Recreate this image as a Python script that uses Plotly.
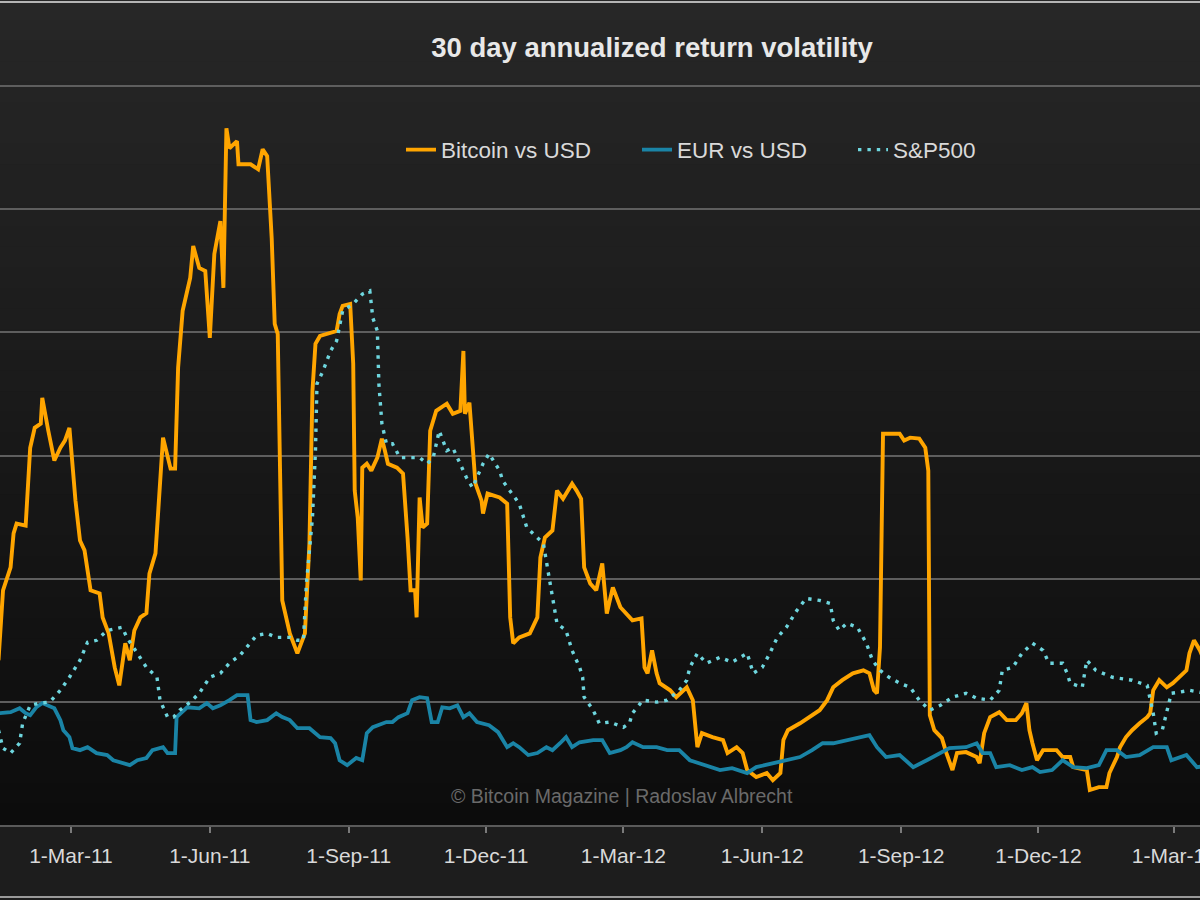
import plotly.graph_objects as go

# ---------------- data ----------------
btc_dates = [
    "2011-01-12", "2011-01-15", "2011-01-20", "2011-01-22", "2011-01-24", "2011-01-30", "2011-02-02", "2011-02-05",
    "2011-02-09", "2011-02-10", "2011-02-14", "2011-02-18", "2011-02-22", "2011-02-25", "2011-02-28", "2011-03-04",
    "2011-03-07", "2011-03-10", "2011-03-14", "2011-03-20", "2011-03-22", "2011-03-26", "2011-03-30", "2011-04-02",
    "2011-04-06", "2011-04-09", "2011-04-12", "2011-04-16", "2011-04-20", "2011-04-22", "2011-04-26", "2011-04-28",
    "2011-05-01", "2011-05-06", "2011-05-09", "2011-05-11", "2011-05-14", "2011-05-19", "2011-05-21", "2011-05-25",
    "2011-05-29", "2011-06-01", "2011-06-04", "2011-06-08", "2011-06-10", "2011-06-12", "2011-06-14", "2011-06-19",
    "2011-06-20", "2011-06-28", "2011-07-03", "2011-07-06", "2011-07-09", "2011-07-12", "2011-07-14", "2011-07-16",
    "2011-07-19", "2011-07-24", "2011-07-29", "2011-08-03", "2011-08-06", "2011-08-08", "2011-08-10", "2011-08-13",
    "2011-08-20", "2011-08-24", "2011-08-26", "2011-08-28", "2011-09-02", "2011-09-04", "2011-09-05", "2011-09-07",
    "2011-09-09", "2011-09-10", "2011-09-13", "2011-09-16", "2011-09-20", "2011-09-23", "2011-09-25", "2011-09-27",
    "2011-10-03", "2011-10-07", "2011-10-10", "2011-10-12", "2011-10-15", "2011-10-16", "2011-10-18", "2011-10-20",
    "2011-10-23", "2011-10-25", "2011-10-29", "2011-11-05", "2011-11-09", "2011-11-14", "2011-11-16", "2011-11-17",
    "2011-11-20", "2011-11-22", "2011-11-24", "2011-11-28", "2011-11-29", "2011-12-02", "2011-12-10", "2011-12-15",
    "2011-12-17", "2011-12-19", "2011-12-23", "2011-12-30", "2012-01-04", "2012-01-06", "2012-01-09", "2012-01-14",
    "2012-01-17", "2012-01-21", "2012-01-27", "2012-01-30", "2012-02-02", "2012-02-04", "2012-02-08", "2012-02-12",
    "2012-02-16", "2012-02-19", "2012-02-23", "2012-02-28", "2012-03-03", "2012-03-07", "2012-03-13", "2012-03-15",
    "2012-03-17", "2012-03-20", "2012-03-23", "2012-03-25", "2012-04-01", "2012-04-05", "2012-04-12", "2012-04-16",
    "2012-04-19", "2012-04-22", "2012-04-29", "2012-05-06", "2012-05-09", "2012-05-15", "2012-05-19", "2012-05-22",
    "2012-05-28", "2012-06-04", "2012-06-08", "2012-06-13", "2012-06-15", "2012-06-18", "2012-06-26", "2012-07-02",
    "2012-07-09", "2012-07-14", "2012-07-18", "2012-07-24", "2012-07-31", "2012-08-07", "2012-08-11", "2012-08-14",
    "2012-08-16", "2012-08-18", "2012-08-20", "2012-08-26", "2012-08-31", "2012-09-03", "2012-09-07", "2012-09-13",
    "2012-09-17", "2012-09-19", "2012-09-20", "2012-09-23", "2012-09-28", "2012-10-01", "2012-10-05", "2012-10-08",
    "2012-10-14", "2012-10-21", "2012-10-23", "2012-10-26", "2012-10-30", "2012-11-05", "2012-11-10", "2012-11-16",
    "2012-11-20", "2012-11-23", "2012-11-25", "2012-11-27", "2012-11-30", "2012-12-04", "2012-12-13", "2012-12-17",
    "2012-12-22", "2012-12-24", "2013-01-02", "2013-01-04", "2013-01-10", "2013-01-15", "2013-01-17", "2013-01-22",
    "2013-01-24", "2013-01-28", "2013-02-01", "2013-02-06", "2013-02-11", "2013-02-13", "2013-02-15", "2013-02-19",
    "2013-02-24", "2013-02-28", "2013-03-04", "2013-03-09", "2013-03-11", "2013-03-14", "2013-03-18", "2013-03-22",
]
btc_vals = [
    66.9, 95.3, 104.6, 118.4, 122.4, 121.6, 153.2, 161.3,
    163.0, 173.5, 160.1, 148.0, 153.2, 156.1, 161.3, 131.7,
    115.5, 111.5, 95.3, 94.0, 84.3, 77.8, 64.0, 56.7,
    73.8, 66.9, 79.0, 84.3, 86.0, 102.1, 110.3, 131.7,
    157.3, 144.7, 144.7, 185.7, 208.8, 222.1, 235.1, 226.2,
    225.0, 197.8, 231.9, 245.2, 218.1, 282.9, 274.8, 277.7,
    268.3, 268.3, 266.3, 274.4, 271.6, 238.3, 203.5, 199.4,
    91.2, 77.8, 69.7, 77.8, 114.3, 176.3, 195.4, 198.6,
    199.8, 200.6, 207.5, 210.8, 211.6, 187.3, 135.8, 124.8,
    99.3, 145.1, 146.7, 143.9, 149.2, 156.9, 152.0, 146.7,
    145.1, 142.7, 116.7, 95.3, 95.3, 84.3, 133.0, 120.8,
    122.4, 160.1, 168.2, 171.1, 167.0, 168.2, 192.5, 167.0,
    171.5, 153.2, 138.6, 131.7, 126.5, 134.6, 133.0, 130.5,
    84.3, 73.8, 76.2, 77.8, 84.3, 108.6, 116.7, 119.6,
    135.8, 132.5, 138.6, 135.8, 132.5, 104.6, 98.1, 95.3,
    106.2, 85.9, 96.5, 88.4, 85.9, 83.1, 83.9, 64.0,
    61.6, 70.9, 61.6, 57.6, 54.7, 51.9, 55.9, 50.7,
    31.6, 37.3, 35.7, 34.5, 29.2, 31.6, 29.2, 22.3,
    19.5, 21.1, 18.2, 21.1, 34.5, 38.5, 41.3, 43.8,
    46.6, 50.7, 55.9, 58.8, 61.6, 62.8, 61.6, 54.7,
    53.5, 72.2, 158.9, 158.9, 158.9, 156.1, 157.3, 156.9,
    153.2, 143.9, 44.6, 38.5, 35.3, 29.2, 22.3, 29.2,
    29.6, 27.6, 25.1, 37.3, 43.8, 45.8, 42.6, 42.6,
    45.4, 49.5, 38.5, 33.2, 26.3, 30.4, 30.4, 27.6,
    27.6, 23.5, 22.3, 14.2, 15.4, 15.4, 21.1, 27.6,
    31.6, 35.7, 38.5, 41.3, 43.8, 45.4, 54.7, 58.8,
    55.9, 57.6, 60.0, 62.8, 69.7, 75.0, 70.9, 65.0,
]

eur_dates = [
    "2011-01-12", "2011-01-20", "2011-01-26", "2011-01-30", "2011-02-02", "2011-02-06", "2011-02-10", "2011-02-18",
    "2011-02-22", "2011-02-24", "2011-02-28", "2011-03-02", "2011-03-07", "2011-03-12", "2011-03-18", "2011-03-25",
    "2011-03-29", "2011-04-02", "2011-04-09", "2011-04-14", "2011-04-20", "2011-04-24", "2011-05-01", "2011-05-04",
    "2011-05-09", "2011-05-10", "2011-05-17", "2011-05-25", "2011-05-30", "2011-06-03", "2011-06-08", "2011-06-14",
    "2011-06-19", "2011-06-26", "2011-06-28", "2011-07-02", "2011-07-09", "2011-07-15", "2011-07-19", "2011-07-24",
    "2011-07-29", "2011-08-06", "2011-08-13", "2011-08-20", "2011-08-23", "2011-08-26", "2011-08-31", "2011-09-06",
    "2011-09-10", "2011-09-13", "2011-09-17", "2011-09-26", "2011-09-30", "2011-10-04", "2011-10-10", "2011-10-13",
    "2011-10-18", "2011-10-23", "2011-10-26", "2011-10-30", "2011-11-02", "2011-11-07", "2011-11-12", "2011-11-16",
    "2011-11-20", "2011-11-25", "2011-11-29", "2011-12-03", "2011-12-09", "2011-12-15", "2011-12-19", "2011-12-23",
    "2011-12-29", "2012-01-04", "2012-01-10", "2012-01-14", "2012-01-19", "2012-01-23", "2012-01-27", "2012-02-01",
    "2012-02-10", "2012-02-16", "2012-02-21", "2012-02-28", "2012-03-03", "2012-03-07", "2012-03-14", "2012-03-23",
    "2012-03-30", "2012-04-07", "2012-04-14", "2012-04-25", "2012-05-04", "2012-05-12", "2012-05-22", "2012-05-28",
    "2012-06-08", "2012-06-17", "2012-06-26", "2012-07-04", "2012-07-11", "2012-07-18", "2012-07-27", "2012-08-05",
    "2012-08-11", "2012-08-16", "2012-08-22", "2012-08-31", "2012-09-09", "2012-09-18", "2012-09-27", "2012-10-03",
    "2012-10-14", "2012-10-21", "2012-10-25", "2012-10-30", "2012-11-03", "2012-11-12", "2012-11-20", "2012-11-27",
    "2012-12-02", "2012-12-10", "2012-12-17", "2012-12-24", "2013-01-02", "2013-01-10", "2013-01-15", "2013-01-22",
    "2013-01-28", "2013-02-06", "2013-02-15", "2013-02-24", "2013-02-27", "2013-03-09", "2013-03-16", "2013-03-22",
]
eur_vals = [
    45.4, 45.8, 47.4, 45.4, 44.6, 47.8, 49.5, 47.4,
    42.6, 38.5, 35.7, 31.2, 30.4, 31.6, 29.2, 28.4,
    26.3, 25.5, 24.3, 26.3, 27.2, 30.4, 31.6, 29.2,
    29.2, 43.8, 47.8, 47.4, 49.5, 47.4, 48.6, 50.7,
    52.7, 52.7, 42.6, 41.8, 42.6, 45.4, 43.8, 42.6,
    39.3, 39.3, 35.7, 35.3, 33.2, 26.3, 24.3, 27.2,
    26.3, 37.3, 39.7, 41.8, 41.8, 43.8, 45.4, 50.7,
    51.9, 51.5, 41.8, 41.8, 47.8, 47.4, 48.6, 43.8,
    45.4, 41.8, 41.3, 40.5, 37.7, 31.6, 33.2, 31.6,
    28.4, 29.2, 31.6, 30.4, 33.2, 35.7, 31.6, 33.6,
    34.5, 34.5, 29.2, 30.4, 31.6, 33.6, 31.6, 31.6,
    30.4, 30.4, 26.3, 24.3, 22.3, 23.1, 21.1, 23.5,
    25.1, 26.3, 27.6, 30.4, 33.2, 33.2, 34.5, 35.7,
    36.5, 31.6, 27.6, 28.4, 23.5, 26.3, 29.2, 31.2,
    31.6, 33.2, 29.2, 29.2, 23.5, 24.3, 22.3, 23.5,
    21.5, 22.3, 26.3, 23.5, 23.1, 24.3, 30.4, 30.4,
    27.6, 28.4, 31.6, 31.6, 26.3, 28.4, 23.5, 24.0,
]

spx_dates = [
    "2011-01-12", "2011-01-15", "2011-01-20", "2011-01-26", "2011-01-28", "2011-02-02", "2011-02-08", "2011-02-15",
    "2011-02-22", "2011-02-28", "2011-03-07", "2011-03-12", "2011-03-18", "2011-03-25", "2011-04-04", "2011-04-07",
    "2011-04-14", "2011-04-20", "2011-04-27", "2011-04-29", "2011-05-04", "2011-05-08", "2011-05-12", "2011-05-19",
    "2011-05-25", "2011-06-01", "2011-06-08", "2011-06-14", "2011-06-21", "2011-06-28", "2011-07-02", "2011-07-09",
    "2011-07-15", "2011-07-24", "2011-07-29", "2011-08-02", "2011-08-04", "2011-08-08", "2011-08-10", "2011-08-11",
    "2011-08-15", "2011-08-20", "2011-08-24", "2011-08-28", "2011-09-04", "2011-09-10", "2011-09-15", "2011-09-17",
    "2011-09-20", "2011-09-21", "2011-09-23", "2011-09-26", "2011-09-30", "2011-10-05", "2011-10-12", "2011-10-18",
    "2011-10-23", "2011-10-27", "2011-10-31", "2011-11-05", "2011-11-09", "2011-11-14", "2011-11-18", "2011-11-22",
    "2011-11-29", "2011-12-03", "2011-12-10", "2011-12-12", "2011-12-17", "2011-12-23", "2011-12-28", "2012-01-04",
    "2012-01-08", "2012-01-11", "2012-01-14", "2012-01-17", "2012-01-23", "2012-01-27", "2012-02-01", "2012-02-03",
    "2012-02-04", "2012-02-10", "2012-02-14", "2012-02-21", "2012-03-01", "2012-03-05", "2012-03-07", "2012-03-14",
    "2012-03-23", "2012-03-30", "2012-04-07", "2012-04-12", "2012-04-14", "2012-04-19", "2012-04-25", "2012-05-04",
    "2012-05-12", "2012-05-22", "2012-05-26", "2012-06-01", "2012-06-06", "2012-06-11", "2012-06-17", "2012-06-24",
    "2012-06-30", "2012-07-09", "2012-07-16", "2012-07-18", "2012-07-22", "2012-07-27", "2012-08-03", "2012-08-09",
    "2012-08-13", "2012-08-18", "2012-08-24", "2012-08-31", "2012-09-07", "2012-09-13", "2012-09-20", "2012-09-27",
    "2012-10-05", "2012-10-14", "2012-10-21", "2012-10-30", "2012-11-05", "2012-11-07", "2012-11-14", "2012-11-20",
    "2012-11-27", "2012-12-04", "2012-12-08", "2012-12-17", "2012-12-20", "2012-12-22", "2012-12-30", "2013-01-02",
    "2013-01-08", "2013-01-19", "2013-02-01", "2013-02-11", "2013-02-15", "2013-02-17", "2013-02-21", "2013-02-24",
    "2013-02-27", "2013-03-04", "2013-03-11", "2013-03-18", "2013-03-22",
]
spx_vals = [
    38.5, 31.2, 29.2, 33.2, 41.3, 48.6, 49.5, 49.9,
    54.7, 60.0, 66.9, 74.2, 75.0, 79.0, 80.3, 76.2,
    69.7, 64.0, 60.0, 50.7, 43.8, 43.8, 46.6, 49.9,
    53.5, 60.0, 61.6, 65.7, 68.9, 73.8, 77.0, 77.8,
    76.2, 76.2, 75.0, 75.0, 98.1, 124.8, 152.0, 179.2,
    184.4, 192.5, 196.6, 208.8, 211.6, 215.6, 216.9, 205.9,
    200.6, 179.2, 163.0, 154.8, 154.8, 149.2, 149.2, 149.2,
    146.7, 149.2, 160.1, 152.0, 153.2, 146.7, 141.1, 137.0,
    146.7, 150.8, 143.9, 139.8, 135.8, 130.5, 120.8, 116.7,
    114.3, 103.4, 92.4, 81.9, 79.0, 70.9, 64.0, 60.0,
    51.9, 46.6, 41.3, 41.8, 39.7, 41.3, 45.4, 50.7,
    49.9, 50.7, 54.7, 58.8, 64.0, 69.7, 65.7, 68.1,
    66.1, 69.7, 61.6, 64.0, 69.7, 76.2, 80.3, 87.2,
    92.0, 91.2, 90.0, 83.1, 79.0, 81.9, 80.3, 73.8,
    66.9, 62.8, 60.0, 57.6, 55.9, 50.7, 46.6, 48.6,
    51.9, 53.5, 51.5, 50.7, 54.7, 62.8, 64.0, 69.7,
    73.8, 70.9, 65.7, 65.7, 61.6, 57.6, 55.9, 66.9,
    62.8, 60.0, 58.8, 56.7, 45.4, 37.3, 38.5, 45.4,
    53.5, 53.9, 54.7, 53.9, 54.0,
]

series_names = ["Bitcoin vs USD", "EUR vs USD", "S&P500"]
title_text = "30 day annualized return volatility"
credit_text = "© Bitcoin Magazine | Radoslav Albrecht"
x_range = ["2011-01-13", "2013-03-18"]
y_range = [0, 300.5]

# ---------------- figure ----------------
FONT = "Liberation Sans, Arial, sans-serif"
W, H = 1200, 900
PLOT_TOP, PLOT_BOTTOM = 85, 825


def py(px):
    """pixel row -> paper y"""
    return (PLOT_BOTTOM - px) / (PLOT_BOTTOM - PLOT_TOP)


fig = go.Figure()

fig.add_trace(go.Scatter(x=btc_dates, y=btc_vals, name=series_names[0], mode="lines",
                         line=dict(color="#FFA500", width=3.9), legend="legend"))
fig.add_trace(go.Scatter(x=eur_dates, y=eur_vals, name=series_names[1], mode="lines",
                         line=dict(color="#1A84A6", width=3.8), legend="legend2"))
fig.add_trace(go.Scatter(x=spx_dates, y=spx_vals, name=series_names[2], mode="lines",
                         line=dict(color="#6ED6DE", width=3.4, dash="3.4px,6px"), legend="legend3"))

# background gradient
shapes = []
n = 40
top_c = (39, 39, 39)
bot_c = (12, 12, 12)
for i in range(n):
    y0 = i * PLOT_BOTTOM / n
    y1 = (i + 1) * PLOT_BOTTOM / n
    t = (i + 0.5) / n
    c = tuple(int(round(top_c[k] + (bot_c[k] - top_c[k]) * t)) for k in range(3))
    shapes.append(dict(type="rect", xref="paper", yref="paper", x0=-0.01, x1=1.01,
                       y0=py(y1), y1=py(y0) + 0.001, fillcolor="rgb(%d,%d,%d)" % c,
                       line=dict(width=0), layer="below"))
# bottom band (below axis)
shapes.append(dict(type="rect", xref="paper", yref="paper", x0=-0.01, x1=1.01,
                   y0=py(900), y1=py(PLOT_BOTTOM), fillcolor="#1d1d1d",
                   line=dict(width=0), layer="below"))
# frame lines top / bottom
shapes.append(dict(type="line", xref="paper", yref="paper", x0=-0.01, x1=1.01,
                   y0=py(2), y1=py(2), line=dict(color="#b5b5b5", width=2), layer="above"))
shapes.append(dict(type="line", xref="paper", yref="paper", x0=-0.01, x1=1.01,
                   y0=py(897), y1=py(897), line=dict(color="#9a9a9a", width=2), layer="above"))


def legend_at(px_x):
    return dict(orientation="h", x=px_x / W, xanchor="left", y=py(150), yanchor="middle",
                font=dict(size=22.5, color="#d9d9d9", family=FONT),
                bgcolor="rgba(0,0,0,0)")


fig.update_layout(
    width=W, height=H,
    margin=dict(l=0, r=0, t=PLOT_TOP, b=H - PLOT_BOTTOM, autoexpand=False),
    paper_bgcolor="#1d1d1d",
    plot_bgcolor="rgba(0,0,0,0)",
    font=dict(family=FONT, color="#d9d9d9"),
    title=dict(text="<b>%s</b>" % title_text, x=652 / W, xanchor="center",
               y=1 - 47 / H, yanchor="middle", yref="container",
               font=dict(size=27.5, color="#e8e8e8", family=FONT)),
    showlegend=True,
    legend=legend_at(401),
    legend2=legend_at(637),
    legend3=legend_at(853),
    shapes=shapes,
    annotations=[dict(text=credit_text, xref="paper", yref="paper", x=622 / W, y=py(796),
                      xanchor="center", yanchor="middle", showarrow=False,
                      font=dict(size=19.5, color="#6a6a6a", family=FONT))],
)

fig.update_xaxes(
    type="date", range=x_range, automargin=False,
    tick0="2011-03-01", dtick="M3", tickformat="%-d-%b-%y",
    ticks="outside", ticklen=6, tickwidth=1.5, tickcolor="#7a7a7a",
    tickfont=dict(size=21, color="#d9d9d9", family=FONT),
    ticklabelstandoff=5, ticklabeloverflow="allow",
    showgrid=False, showline=True, linecolor="#5a5a5a", linewidth=2,
    zeroline=False,
)
fig.update_yaxes(
    range=y_range, dtick=50, showticklabels=False, automargin=False,
    showgrid=True, gridcolor="#5e5e5e", gridwidth=2,
    zeroline=False, showline=False, ticks="",
)

fig.write_html("out.html", config={"displayModeBar": False},
               post_script="document.body.style.margin='0';document.body.style.overflow='hidden';")
